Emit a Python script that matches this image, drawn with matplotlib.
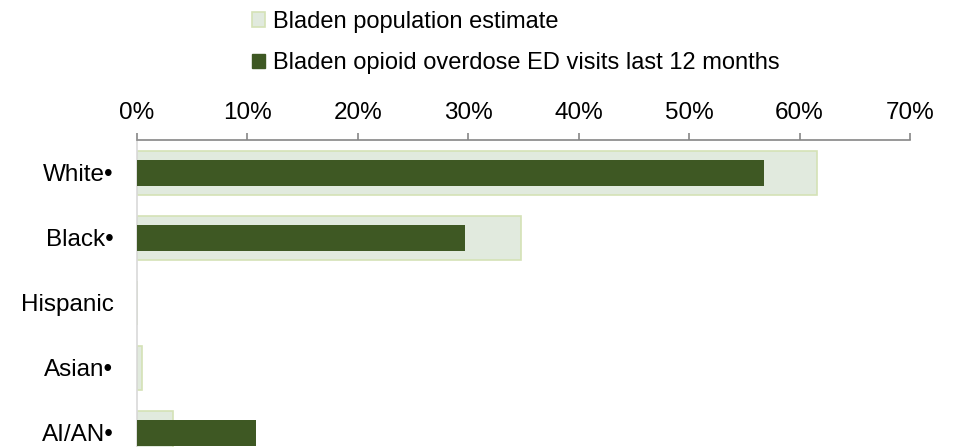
import numpy as np
import matplotlib.pyplot as plt
from matplotlib.patches import Patch
from matplotlib.ticker import PercentFormatter

plt.rcParams['font.family'] = ['Liberation Sans', 'DejaVu Sans']

# datos
categorias = ['White•', 'Black•', 'Hispanic', 'Asian•', 'AI/AN•']
poblacion = [61.6, 34.8, 0.0, 0.45, 3.3]
visitas_ed = [56.8, 29.7, 0.0, 0.0, 10.8]
etiquetas = ['Bladen population estimate',
             'Bladen opioid overdose ED visits last 12 months']

color_pob = '#E1EADE'
borde_pob = '#D4E2B6'
color_ed = '#3E5823'
fs = 17.5

fig = plt.figure(figsize=(9.55, 4.47), dpi=100)
ax = fig.add_axes([0.1435, -0.0414, 0.8094, 0.728])

y = np.arange(len(categorias))
ax.barh(y, poblacion, height=0.68, color=color_pob, edgecolor=borde_pob, linewidth=1.2, zorder=2)
ax.barh(y, visitas_ed, height=0.4, color=color_ed, zorder=3)

ax.set_ylim(len(categorias) - 0.5, -0.5)
ax.set_xlim(0, 70)
ax.set_xticks(np.arange(0, 71, 10))
ax.xaxis.set_major_formatter(PercentFormatter(xmax=100, decimals=0))
ax.xaxis.tick_top()
ax.set_yticks(y)
ax.set_yticklabels(categorias)

for s in ['right', 'bottom']:
    ax.spines[s].set_visible(False)
ax.spines['top'].set_color('#868686')
ax.spines['top'].set_linewidth(1.2)
ax.spines['left'].set_color('#D9D9D9')
ax.spines['left'].set_linewidth(1.2)

ax.tick_params(axis='x', direction='out', length=5, width=1.2, color='#868686',
               labelsize=fs, pad=6.5)
ax.tick_params(axis='y', length=0, labelsize=fs, pad=17)

handles = [Patch(facecolor=color_pob, edgecolor=borde_pob, linewidth=1.2),
           Patch(facecolor=color_ed, edgecolor=color_ed)]
fig.legend(handles, etiquetas, loc='upper left', bbox_to_anchor=(252 / 955, 1 - 11 / 447),
           frameon=False, fontsize=17, handlelength=0.57, handleheight=0.57,
           handletextpad=0.3, labelspacing=0.82, borderpad=0, borderaxespad=0)

fig.savefig('out.png', dpi=100)
